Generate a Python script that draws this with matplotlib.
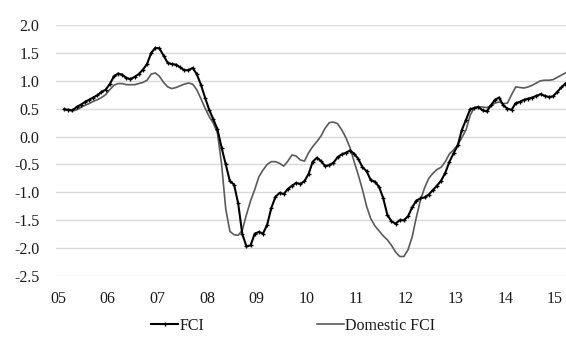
import numpy as np
import matplotlib
matplotlib.use("Agg")
import matplotlib.pyplot as plt

# monthly series, Feb 2005 - Mar 2015
start_year = 2005
start_month = 2

fci = [0.49, 0.48, 0.47, 0.53, 0.57, 0.62, 0.66, 0.70, 0.74, 0.80,
       0.84, 0.94, 1.08, 1.13, 1.11, 1.05, 1.03, 1.07, 1.12, 1.20,
       1.30, 1.50, 1.59, 1.58, 1.45, 1.32, 1.30, 1.29, 1.24, 1.19,
       1.19, 1.23, 1.12, 0.93, 0.70, 0.48, 0.31, 0.13, -0.20, -0.50,
       -0.80, -0.86, -1.20, -1.75, -1.97, -1.95, -1.74, -1.71, -1.74, -1.58,
       -1.28, -1.08, -1.01, -1.03, -0.94, -0.88, -0.83, -0.85, -0.80, -0.67,
       -0.45, -0.38, -0.44, -0.53, -0.51, -0.47, -0.37, -0.32, -0.29, -0.25,
       -0.31, -0.40, -0.55, -0.62, -0.78, -0.81, -0.90, -1.10, -1.40, -1.52,
       -1.56, -1.50, -1.50, -1.43, -1.27, -1.15, -1.11, -1.09, -1.04, -0.96,
       -0.88, -0.79, -0.65, -0.45, -0.30, -0.16, 0.12, 0.30, 0.49, 0.51,
       0.53, 0.47, 0.45, 0.56, 0.66, 0.70, 0.56, 0.50, 0.48, 0.60,
       0.62, 0.66, 0.68, 0.70, 0.73, 0.76, 0.73, 0.71, 0.72, 0.80,
       0.88, 0.95]

domestic_fci = [0.49, 0.47, 0.46, 0.48, 0.52, 0.56, 0.59, 0.63, 0.66, 0.70,
                0.75, 0.84, 0.92, 0.95, 0.95, 0.93, 0.93, 0.93, 0.95, 0.97,
                1.01, 1.12, 1.14, 1.08, 0.97, 0.89, 0.86, 0.88, 0.91, 0.94,
                0.96, 0.94, 0.84, 0.68, 0.51, 0.36, 0.24, 0.06, -0.50, -1.30,
                -1.70, -1.76, -1.77, -1.68, -1.40, -1.15, -0.95, -0.72, -0.60, -0.50,
                -0.45, -0.45, -0.48, -0.53, -0.44, -0.33, -0.35, -0.42, -0.44, -0.29,
                -0.18, -0.09, 0.01, 0.15, 0.25, 0.26, 0.23, 0.12, -0.02, -0.20,
                -0.45, -0.69, -0.95, -1.25, -1.47, -1.60, -1.69, -1.78, -1.85, -1.95,
                -2.07, -2.15, -2.15, -2.03, -1.80, -1.45, -1.14, -0.92, -0.75, -0.66,
                -0.59, -0.55, -0.45, -0.31, -0.24, -0.15, -0.02, 0.12, 0.38, 0.52,
                0.53, 0.53, 0.52, 0.55, 0.60, 0.62, 0.59, 0.60, 0.75, 0.89,
                0.88, 0.87, 0.89, 0.92, 0.96, 1.00, 1.01, 1.01, 1.02, 1.06,
                1.10, 1.14]

year_ticks = list(range(2005, 2016))
year_labels = ["%02d" % (y % 100) for y in year_ticks]
y_ticks = [2.0, 1.5, 1.0, 0.5, 0.0, -0.5, -1.0, -1.5, -2.0, -2.5]


def month_positions(n):
    """ decimal year at the middle of each month """
    idx = np.arange(n) + (start_month - 1)
    return start_year + (idx + 0.5) / 12.0


def main():
    plt.rcParams['font.family'] = ['Liberation Serif', 'DejaVu Serif']
    fig = plt.figure(figsize=(5.66, 3.40), dpi=100)
    ax = fig.add_axes([56 / 566, 1 - 276 / 340, 510 / 566, 251 / 340])

    t = month_positions(len(fci))
    ax.plot(t, domestic_fci, color='#5a5a5a', lw=1.2, label='Domestic FCI', zorder=2)
    ax.plot(t, fci, color='black', lw=1.5, marker='+', ms=3.2, mew=0.9,
            label='FCI', zorder=3)

    ax.set_xlim(2004.96, 2015.22)
    ax.set_ylim(-2.5, 2.0)
    ax.set_yticks(y_ticks)
    ax.set_yticklabels(["%.1f" % v for v in y_ticks])
    ax.set_xticks(year_ticks)
    ax.set_xticklabels(year_labels)
    ax.tick_params(axis='y', length=0, pad=12, labelsize=11.5, colors='#1a1a1a')
    ax.tick_params(axis='x', length=0, pad=11, labelsize=11.5, colors='#1a1a1a')
    ax.yaxis.grid(True, color='#d9d9d9', lw=1.0)
    ax.set_axisbelow(True)
    for s in ax.spines.values():
        s.set_visible(False)

    handles, labels = ax.get_legend_handles_labels()
    leg = fig.legend(handles[::-1], labels[::-1], loc='center', ncol=2,
                     bbox_to_anchor=(0.518, 1 - 326 / 340), frameon=False,
                     fontsize=11.5, handlelength=1.7, handletextpad=0.05,
                     columnspacing=7.1, numpoints=1)
    for txt in leg.get_texts():
        txt.set_color('#1a1a1a')

    fig.savefig('out.png', dpi=100)


if __name__ == "__main__":
    main()
